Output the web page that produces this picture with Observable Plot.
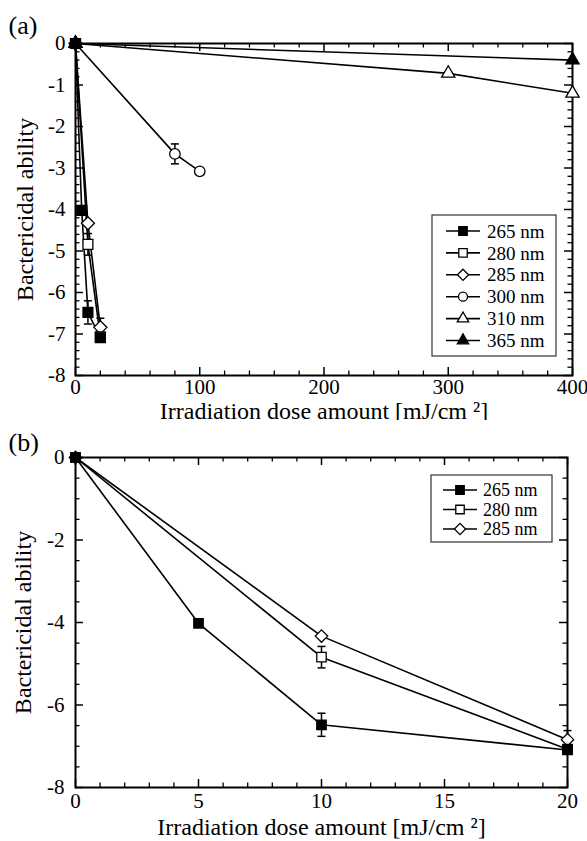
<!DOCTYPE html>
<html><head><meta charset="utf-8">
<script src="https://cdn.jsdelivr.net/npm/d3@7"></script>
<script src="https://cdn.jsdelivr.net/npm/@observablehq/plot@0.6"></script>
<style>
body{margin:0;background:#fff;}
#root{position:relative;width:587px;height:841px;}
#root svg{position:absolute;left:0;}
</style></head><body><div id="root"></div>
<script>
// ---- data ----
const series = ["265 nm","280 nm","285 nm","300 nm","310 nm","365 nm"];
const symbols = ["square","square","diamond2","circle","triangle","triangle"];
const fills = ["black","white","white","white","white","black"];
const dose265 = [0,5,10,20],  abil265 = [0,-4.02,-6.48,-7.09], err265 = [0,0,0.28,0];
const dose280 = [0,10,20],    abil280 = [0,-4.84,-7.07],       err280 = [0,0.26,0];
const dose285 = [0,10,20],    abil285 = [0,-4.33,-6.84],       err285 = [0,0,0.22];
const dose300 = [0,80,100],   abil300 = [0,-2.66,-3.08],       err300 = [0,0.24,0];
const dose310 = [0,300,400],  abil310 = [0,-0.72,-1.2],        err310 = [0,0,0];
const dose365 = [0,400],      abil365 = [0,-0.4],              err365 = [0,0];
const xTicksA = [0,100,200,300,400];
const yTicksA = [-8,-7,-6,-5,-4,-3,-2,-1,0];
const xTicksB = [0,5,10,15,20];
const yTicksB = [-8,-6,-4,-2,0];
const xTitle = "Irradiation dose amount [mJ/cm ²]";
const yTitle = "Bactericidal ability";

const table = {
  "265 nm": {dose: dose265, v: abil265, e: err265},
  "280 nm": {dose: dose280, v: abil280, e: err280},
  "285 nm": {dose: dose285, v: abil285, e: err285},
  "300 nm": {dose: dose300, v: abil300, e: err300},
  "310 nm": {dose: dose310, v: abil310, e: err310},
  "365 nm": {dose: dose365, v: abil365, e: err365}
};
const FONT = '"Liberation Serif","Times New Roman",serif';
const capSymbol = {draw(ctx, size){ const w = Math.sqrt(size/Math.PI); ctx.moveTo(-w,0); ctx.lineTo(w,0); }};
const d3sym = {square: d3.symbolSquare, diamond2: d3.symbolDiamond2, circle: d3.symbolCircle, triangle: d3.symbolTriangle};
const rBy = {square: 5.3, diamond2: 5.6, circle: 5, triangle: 4.7};

function panel(o) {
  const W = 587;
  const rows = o.names.flatMap(n => table[n].dose.map((x,i)=>({series:n, dose:x, v:table[n].v[i], e:table[n].e[i]})));
  const errs = rows.filter(d => d.e > 0);
  const fh = o.height - o.mt - o.mb, fw = W - o.ml - o.mr;
  const near = (a,b)=>Math.abs(a-b)<1e-9;
  const xMinor = d3.range(o.xDomain[0], o.xDomain[1]+1e-9, o.xMinorStep).filter(v=>!o.xTicks.some(m=>near(m,v)));
  const yMinor = d3.range(-8, 1e-9, o.yMinorStep).filter(v=>!o.yTicks.some(m=>near(m,v)));
  const MJ = 8, MN = 4.5;
  const marks = [
    Plot.ruleX(o.xTicks, {insetTop: fh-MJ, strokeWidth: 1.5}),
    Plot.ruleX(o.xTicks, {insetBottom: fh-MJ, strokeWidth: 1.5}),
    Plot.ruleX(xMinor, {insetTop: fh-MN, strokeWidth: 1.3}),
    Plot.ruleX(xMinor, {insetBottom: fh-MN, strokeWidth: 1.3}),
    Plot.ruleY(o.yTicks, {insetRight: fw-MJ, strokeWidth: 1.5}),
    Plot.ruleY(o.yTicks, {insetLeft: fw-MJ, strokeWidth: 1.5}),
    Plot.ruleY(yMinor, {insetRight: fw-MN, strokeWidth: 1.3}),
    Plot.ruleY(yMinor, {insetLeft: fw-MN, strokeWidth: 1.3}),
    Plot.frame({stroke: "black", strokeWidth: 2}),
    Plot.axisX({ticks: o.xTicks, anchor: "bottom", tickSize: 0, tickPadding: o.xPad, tickFormat: d=>String(d), label: null, fontSize: 21}),
    Plot.axisY({ticks: o.yTicks, anchor: "left", tickSize: 0, tickPadding: o.yPad, tickFormat: d=>String(d), label: null, fontSize: 21}),
    Plot.line(rows, {x: "dose", y: "v", z: "series", stroke: "black", strokeWidth: 1.6}),
    Plot.ruleX(errs, {x: "dose", y1: d=>d.v-d.e, y2: d=>d.v+d.e, stroke: "black", strokeWidth: 1.5}),
    Plot.dot(errs, {x: "dose", y: d=>d.v-d.e, symbol: capSymbol, r: 4, fill: "none", stroke: "black", strokeWidth: 1.5}),
    Plot.dot(errs, {x: "dose", y: d=>d.v+d.e, symbol: capSymbol, r: 4, fill: "none", stroke: "black", strokeWidth: 1.5})
  ];
  o.names.slice().reverse().forEach(n => {
    const i = series.indexOf(n);
    marks.push(Plot.dot(rows.filter(d=>d.series===n), {x: "dose", y: "v", symbol: symbols[i], r: rBy[symbols[i]]*o.rScale, fill: fills[i], stroke: "black", strokeWidth: 1.3}));
  });
  marks.push(
    Plot.text([xTitle], {frameAnchor: "bottom", dy: o.xLabelDy, fontSize: 24, textAnchor: "middle", lineAnchor: "middle"}),
    Plot.text([yTitle], {frameAnchor: "left", dx: o.yLabelDx, rotate: -90, fontSize: 24, textAnchor: "middle", lineAnchor: "middle"}),
    Plot.text([o.tag], {frameAnchor: "top-left", dx: -67, dy: o.tagDy, fontSize: 26, textAnchor: "start", lineAnchor: "middle"})
  );
  const svg = Plot.plot({
    width: W, height: o.height,
    marginTop: o.mt, marginBottom: o.mb, marginLeft: o.ml, marginRight: o.mr,
    x: {domain: o.xDomain}, y: {domain: [-8, 0]},
    style: {fontFamily: FONT, fontSize: "21px", color: "black", background: "white", overflow: "visible"},
    marks
  });
  // legend
  const L = o.legend;
  const g = d3.select(svg).append("g").attr("font-family", FONT).attr("font-size", L.fs).attr("text-anchor", "start");
  g.append("rect").attr("x", L.x).attr("y", L.y).attr("width", L.w).attr("height", L.h)
    .attr("fill", "white").attr("stroke", "#333").attr("stroke-width", 1.2);
  o.names.forEach((n, k) => {
    const i = series.indexOf(n);
    const cy = L.row0 + k*L.step;
    g.append("line").attr("x1", L.l1).attr("x2", L.l2).attr("y1", cy).attr("y2", cy).attr("stroke", "black").attr("stroke-width", 1.6);
    const r = rBy[symbols[i]]*0.9;
    g.append("path").attr("transform", `translate(${(L.l1+L.l2)/2},${cy})`)
      .attr("d", d3.symbol(d3sym[symbols[i]], Math.PI*r*r)())
      .attr("fill", fills[i]).attr("stroke", "black").attr("stroke-width", 1.3);
    g.append("text").attr("x", L.tx).attr("y", cy).attr("dy", "0.35em").attr("fill", "black").attr("text-anchor", "start").text(n);
  });
  return svg;
}

const root = document.getElementById("root");
const a = panel({names: series, xDomain: [0,400], xTicks: xTicksA, xMinorStep: 20, yTicks: yTicksA, yMinorStep: 0.2,
  height: 420, mt: 43, mb: 45, ml: 75, mr: 15, xPad: 4, yPad: 10, xLabelDy: 36, yLabelDx: -50, tag: "(a)", tagDy: -18, rScale: 1.05,
  legend: {x: 432, y: 215, w: 124, h: 141, row0: 231, step: 21.9, l1: 446, l2: 480, tx: 487, fs: 19}});
a.style.top = "0px";
root.appendChild(a);
const b = panel({names: series.slice(0,3), xDomain: [0,20], xTicks: xTicksB, xMinorStep: 1, yTicks: yTicksB, yMinorStep: 0.5,
  height: 421, mt: 37, mb: 54, ml: 75, mr: 20, xPad: 6, yPad: 11, xLabelDy: 40, yLabelDx: -52, tag: "(b)", tagDy: -15, rScale: 1,
  legend: {x: 431, y: 55, w: 121, h: 67, row0: 70, step: 19.5, l1: 443, l2: 477, tx: 483, fs: 18}});
b.style.top = "420px";
root.appendChild(b);
</script></body></html>
